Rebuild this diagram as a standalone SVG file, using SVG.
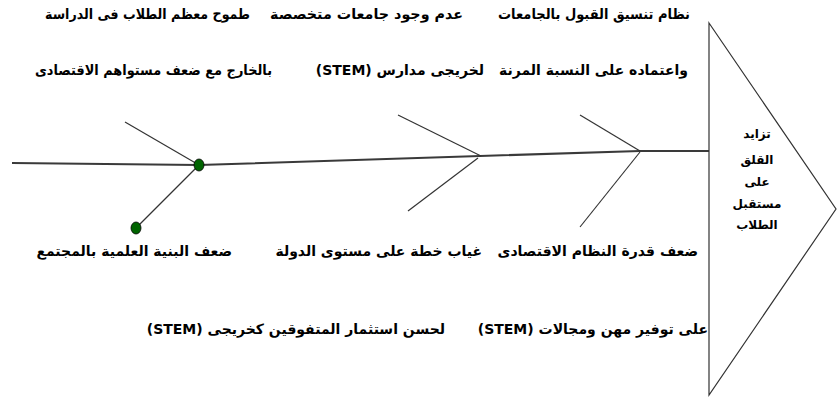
<svg xmlns="http://www.w3.org/2000/svg" width="837" height="400" viewBox="0 0 837 400">
<style>
.t{font-family:"DejaVu Sans",sans-serif;font-weight:bold;font-size:14px;fill:#000;direction:rtl;unicode-bidi:embed;text-anchor:start}
.h{font-family:"DejaVu Sans",sans-serif;font-weight:bold;font-size:12px;fill:#000;text-anchor:middle}
.ln{stroke:#333;stroke-width:1.2;fill:none}
.sp{stroke:#3a3a3a;stroke-width:2;fill:none}
.dot{fill:#006400;stroke:#000;stroke-width:0.8}
</style>
<rect width="837" height="400" fill="#fff"/>
<g id="connectors">
<polyline class="sp" points="12,163 199,165 480,156 640,151 709,151"/>
<line class="ln" x1="125" y1="122" x2="199" y2="165"/>
<line class="ln" x1="199" y1="165" x2="136" y2="228"/>
<line class="ln" x1="398" y1="115" x2="481" y2="156"/>
<line class="ln" x1="408" y1="211" x2="478" y2="158"/>
<line class="ln" x1="580" y1="115" x2="640" y2="151"/>
<line class="ln" x1="640" y1="152" x2="580" y2="227"/>
</g>
<g id="dots">
<ellipse class="dot" cx="199" cy="165" rx="5" ry="6"/>
<ellipse class="dot" cx="136" cy="228" rx="5" ry="6"/>
</g>
<g id="head">
<polygon points="709,23 836,209 709,395" fill="none" stroke="#333" stroke-width="1.2"/>
<text class="h" x="757" y="138">تزايد</text>
<text class="h" x="757" y="164">القلق</text>
<text class="h" x="757" y="186">على</text>
<text class="h" x="757" y="208">مستقبل</text>
<text class="h" x="757" y="229">الطلاب</text>
</g>
<g id="causes-top">
<text class="t" x="690" y="19" textLength="192" lengthAdjust="spacingAndGlyphs">نظام تنسيق القبول بالجامعات</text>
<text class="t" x="463" y="19" textLength="193" lengthAdjust="spacingAndGlyphs">عدم وجود جامعات متخصصة</text>
<text class="t" x="250" y="19" textLength="205" lengthAdjust="spacingAndGlyphs">طموح معظم الطلاب فى الدراسة</text>
<text class="t" x="688" y="75">واعتماده على النسبة المرنة</text>
<text class="t" x="484" y="75">لخريجى مدارس (STEM)</text>
<text class="t" x="272" y="75" textLength="237" lengthAdjust="spacingAndGlyphs">بالخارج مع ضعف مستواهم الاقتصادى</text>
</g>
<g id="causes-bottom">
<text class="t" x="698" y="256">ضعف قدرة النظام الاقتصادى</text>
<text class="t" x="482" y="256">غياب خطة على مستوى الدولة</text>
<text class="t" x="232" y="256">ضعف البنية العلمية بالمجتمع</text>
<text class="t" x="708" y="334">على توفير مهن ومجالات (STEM)</text>
<text class="t" x="445" y="334">لحسن استثمار المتفوقين كخريجى (STEM)</text>
</g>
</svg>
